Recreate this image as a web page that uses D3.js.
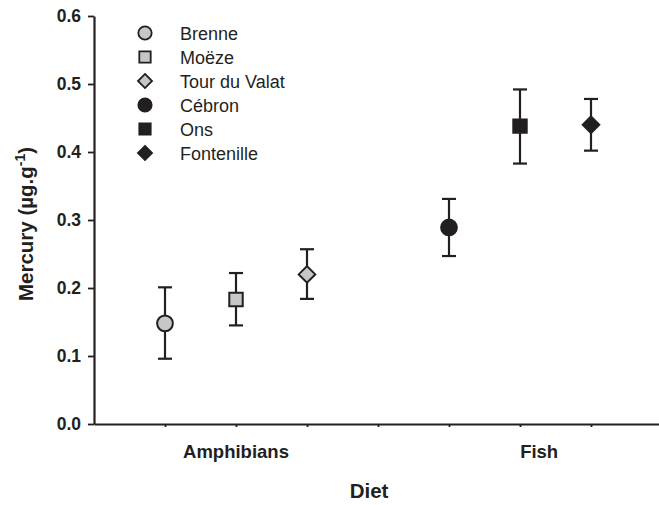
<!DOCTYPE html>
<html>
<head>
<meta charset="utf-8">
<script src="https://cdn.jsdelivr.net/npm/d3@7"></script>
<style>
  body { margin: 0; background: white; }
  text { font-family: "Liberation Sans", Arial, sans-serif; fill: #231f20; }
</style>
</head>
<body>
<div id="plot"></div>
<script>
// data
const sites = ["Brenne", "Moëze", "Tour du Valat", "Cébron", "Ons", "Fontenille"];
const sitePos = [1, 2, 3, 5, 6, 7];
const means = [0.148, 0.183, 0.220, 0.289, 0.438, 0.440];
const lower = [0.096, 0.145, 0.184, 0.247, 0.383, 0.402];
const upper = [0.201, 0.222, 0.257, 0.331, 0.492, 0.478];
const shapes = ["circle", "square", "diamond", "circle", "square", "diamond"];
const fills = ["#c6c7c8", "#c6c7c8", "#c6c7c8", "#231f20", "#231f20", "#231f20"];
const diets = ["Amphibians", "Fish"];
const dietPos = [2, 6.27];
const yTicks = [0, 0.1, 0.2, 0.3, 0.4, 0.5, 0.6];

const w = 659, h = 505;
const margin = {top: 16, left: 94, bottom: 81};
const ink = "#231f20";

const svg = d3.select("div#plot")
  .append("svg")
  .attr("width", w)
  .attr("height", h);

const x = d3.scaleLinear().domain([0, 8]).range([margin.left, margin.left + 8 * 71]);
const y = d3.scaleLinear().domain([0, 0.6]).range([h - margin.bottom, margin.top]);

// axes
const yAxis = svg.append("g")
  .attr("transform", `translate(${margin.left},0)`)
  .call(d3.axisLeft(y).tickValues(yTicks).tickFormat(d3.format(".1f")).tickSize(6).tickSizeOuter(0).tickPadding(7));
yAxis.selectAll("text").style("font-size", "17.5px").style("font-weight", "bold").attr("font-family", null);

const xAxis = svg.append("g")
  .attr("transform", `translate(0,${y(0)})`)
  .call(d3.axisBottom(x).tickValues(d3.range(1, 8)).tickFormat("").tickSize(3).tickSizeOuter(0));

svg.selectAll(".domain").attr("stroke", ink).attr("stroke-width", 2.2);
svg.selectAll(".tick line").attr("stroke", ink).attr("stroke-width", 1.8);

// symbols
const symType = {circle: d3.symbolCircle, square: d3.symbolSquare, diamond: d3.symbolDiamond2};
const symSize = {circle: 195, square: 180, diamond: 175};
const sym = (s, k) => d3.symbol().type(symType[s]).size(symSize[s] * (k || 1))();

// error bars
const bars = svg.append("g");
sites.forEach((s, i) => {
  const cx = x(sitePos[i]);
  bars.append("line")
    .attr("x1", cx).attr("x2", cx)
    .attr("y1", y(lower[i])).attr("y2", y(upper[i]))
    .attr("stroke", ink).attr("stroke-width", 2.2);
  [lower[i], upper[i]].forEach(v => {
    bars.append("line")
      .attr("x1", cx - 7).attr("x2", cx + 7)
      .attr("y1", y(v)).attr("y2", y(v))
      .attr("stroke", ink).attr("stroke-width", 2.2);
  });
});

svg.append("g").selectAll("path")
  .data(sites)
  .enter()
  .append("path")
  .attr("transform", (d, i) => `translate(${x(sitePos[i])},${y(means[i])})`)
  .attr("d", (d, i) => sym(shapes[i]))
  .attr("fill", (d, i) => fills[i])
  .attr("stroke", ink)
  .attr("stroke-width", 2);

// legend
const legend = svg.append("g").attr("transform", "translate(145,33)");
sites.forEach((s, i) => {
  const g = legend.append("g").attr("transform", `translate(0,${i * 24})`);
  g.append("path")
    .attr("d", sym(shapes[i], 0.72))
    .attr("fill", fills[i])
    .attr("stroke", ink)
    .attr("stroke-width", 1.8);
  g.append("text")
    .attr("x", 35)
    .attr("y", 6.5)
    .style("font-size", "18px")
    .text(s);
});

// category labels
diets.forEach((d, i) => {
  svg.append("text")
    .attr("x", x(dietPos[i]))
    .attr("y", 458)
    .style("text-anchor", "middle")
    .style("font-size", "18.5px")
    .style("font-weight", "bold")
    .text(d);
});

svg.append("text")
  .attr("x", 369)
  .attr("y", 498)
  .style("text-anchor", "middle")
  .style("font-size", "20.5px")
  .style("font-weight", "bold")
  .text("Diet");

const yl = svg.append("text")
  .attr("transform", "translate(33,224) rotate(-90)")
  .style("text-anchor", "middle")
  .style("font-size", "20.5px")
  .style("font-weight", "bold");
yl.append("tspan").text("Mercury (µg.g");
yl.append("tspan").attr("dy", -8).style("font-size", "14px").text("-1");
yl.append("tspan").attr("dy", 8).text(")");
</script>
</body>
</html>
